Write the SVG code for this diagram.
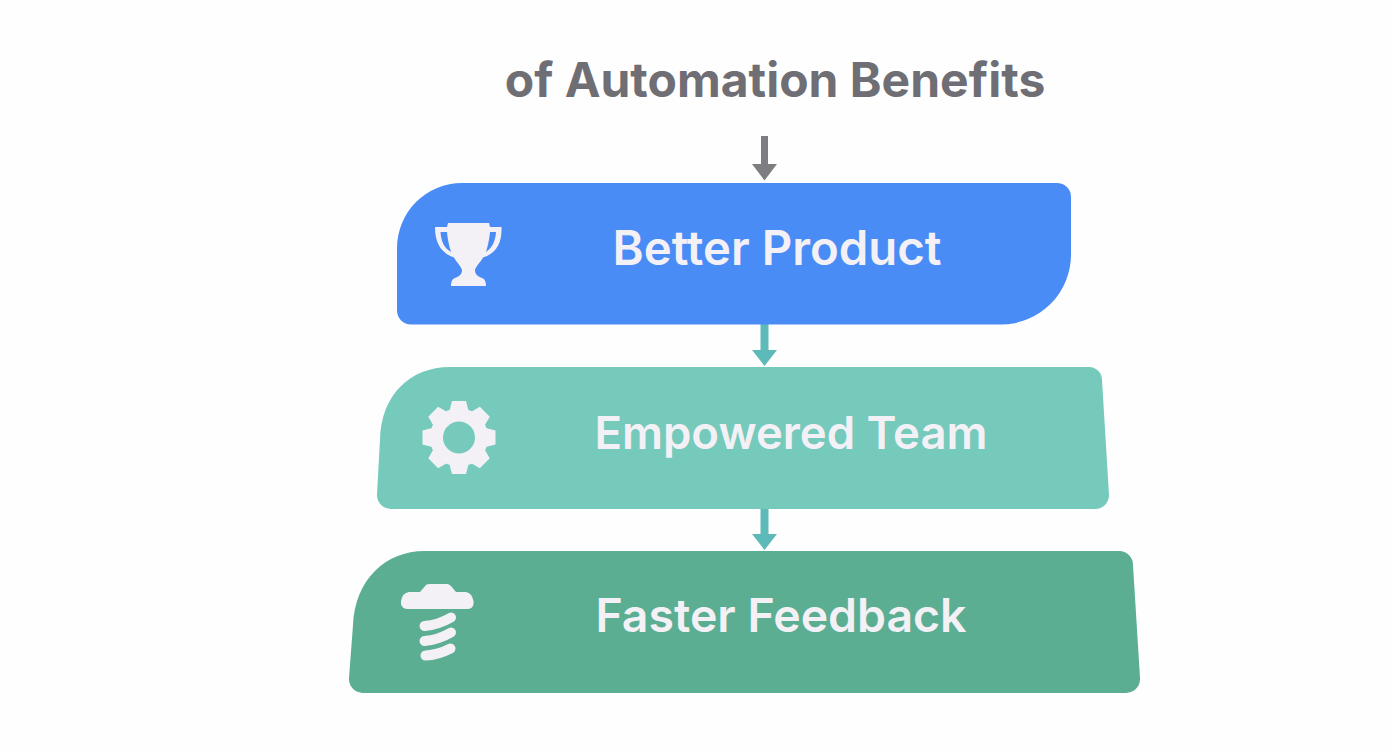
<svg xmlns="http://www.w3.org/2000/svg" width="1392" height="752" viewBox="0 0 1392 752">
<defs>
<style>
.t{font-family:Inter,"Liberation Sans",sans-serif;font-weight:600;fill:#f3f1f6;text-anchor:middle}
.i{fill:#f3f1f6}
.th{fill:none;stroke:#f3f1f6;stroke-width:10;stroke-linecap:round}
</style>
<polygon id="tooth" points="-10,-25 -7,-36.500 7,-36.500 10,-25" fill="#f3f1f6"/>
</defs>
<rect width="1392" height="752" fill="#fefefe"/>
<text id="title" x="775" y="97" style="font-family:Inter,'Liberation Sans',sans-serif;font-weight:700;font-size:48px;fill:#6f6e74;text-anchor:middle">of Automation Benefits</text>
<g id="connectors">
<path d="M761 136h7v28h9l-12.500 16.500-12.500-16.500h9z" fill="#7d7d82"/>
<path d="M760.500 324h8v26h8.500l-12.500 16-12.500-16h8.500z" fill="#5dbab8"/>
<path d="M760.500 508h8v26h8.500l-12.500 16-12.500-16h8.500z" fill="#5dbab8"/>
</g>
<g id="node-better-product">
<path d="M462 183H1057a14 14 0 0 1 14 14V254a70 70 0 0 1-70 70.500H411a14 14 0 0 1-14-14V248a65 65 0 0 1 65-65z" fill="#4a8cf5"/>
<path class="i" fill-rule="evenodd" d="M448 223H489L490 227H501.500C502 243 497 253 483 257.500C480 263 476 266 475 270C475 274 477 276 482 278C485 279 486 282 486 286H451C451 282 452 279 455 278C460 276 462 274 462 270C461 266 457 263 454 257.500C441 253 435 243 435 227H447ZM440.500 232C441 241 444 248 451 252C449 245 447.500 239 447 232ZM496 232H490C489.500 239 488 245 486 252C492 248 495.500 241 496 232Z"/>
<text class="t" x="777" y="265" font-size="47.300">Better Product</text>
</g>
<g id="node-empowered-team">
<path d="M450 367H1089a13 13 0 0 1 13 13L1109 495a14 14 0 0 1-14 14H391a14 14 0 0 1-14-15L380 440C381 395 410 367 450 367z" fill="#76cabc"/>
<g transform="translate(459 437.500)">
<circle r="22.500" fill="none" stroke="#f3f1f6" stroke-width="13"/>
<use href="#tooth"/>
<use href="#tooth" transform="rotate(45)"/>
<use href="#tooth" transform="rotate(90)"/>
<use href="#tooth" transform="rotate(135)"/>
<use href="#tooth" transform="rotate(180)"/>
<use href="#tooth" transform="rotate(225)"/>
<use href="#tooth" transform="rotate(270)"/>
<use href="#tooth" transform="rotate(315)"/>
</g>
<text class="t" x="791" y="449" font-size="45.500">Empowered Team</text>
</g>
<g id="node-faster-feedback">
<path d="M425 551H1119a14 14 0 0 1 14 14L1140 678a14 14 0 0 1-14 15H363a14 14 0 0 1-14-15L353 625C355 580 385 551 425 551z" fill="#5bae92"/>
<path class="th" d="M424.500 626Q438 625 451 617.500M424.500 641Q438 640 451 632.500M425.500 655.500Q438 655 450.500 648.500"/>
<path class="i" d="M420 592L426 585Q427 584 430 584H447Q449 584 451 586L456 592H466Q472 593 473.500 601V604Q473 609 467 609H408Q402 609 401 604V601Q402 593 409 592Z"/>
<text class="t" x="781" y="632" font-size="46.400">Faster Feedback</text>
</g>
</svg>
